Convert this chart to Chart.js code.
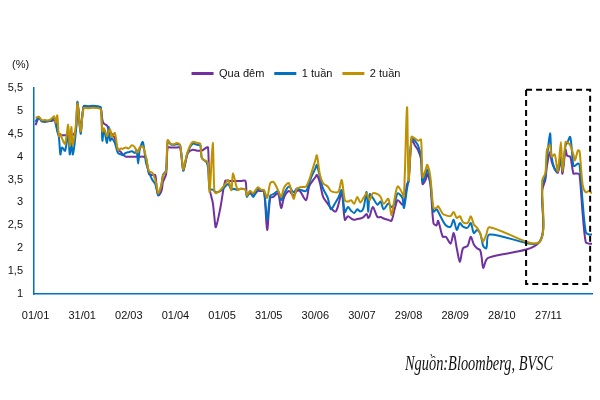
<!DOCTYPE html>
<html><head><meta charset="utf-8">
<script src="https://cdn.jsdelivr.net/npm/chart.js@4"></script>
<style>
html,body{margin:0;padding:0;background:#fff;}
#wrap{position:relative;width:600px;height:400px;overflow:hidden;}
#unit{position:absolute;left:12px;top:59px;font:11px "Liberation Sans",Arial,sans-serif;line-height:1;color:#111;}
#src{position:absolute;left:405px;top:353px;font:italic 21px "Liberation Serif","Times New Roman",serif;line-height:1;color:#111;white-space:nowrap;transform-origin:0 0;}
</style></head><body>
<div id="wrap"><canvas id="c" width="600" height="400"></canvas>
<div id="unit">(%)</div><div id="src">Nguồn:Bloomberg, BVSC</div></div>
<script>
const seriesNames = ['Qua đêm', '1 tuần', '2 tuần'];
const days = [0,2,4,6,8,10,12,13,14,15,16,17,19,21,22,23,24,26,27,29,31,34,37,40,42,43,44,46,47,48,49,51,53,55,56,58,60,62,64,65,66,67,69,71,73,75,77,78,79,81,82,84,85,87,89,91,93,95,96,98,101,104,106,107,110,111,112,114,115,116,119,122,124,126,127,130,132,135,136,138,140,143,145,147,149,151,153,156,158,160,163,166,168,170,174,176,178,180,181,183,185,188,190,193,195,197,199,201,203,205,207,209,211,213,214,215,217,220,222,224,227,229,231,233,236,237,239,240,242,244,246,248,249,251,252,254,256,258,259,262,264,267,269,271,273,275,278,280,282,284,286,287,288,290,292,324,326,328,329,331,332,334,336,338,339,341,342,344,346,347,349,350,352,354,356,358];
const quaDem = [4.69,4.84,4.78,4.76,4.78,4.78,4.80,4.72,4.60,4.47,4.47,4.47,4.47,4.47,4.47,4.47,4.47,4.58,5.20,4.58,5.10,5.09,5.10,5.09,5.05,4.80,4.72,4.68,4.60,4.55,4.50,4.40,4.15,4.10,4.05,4.00,4.00,4.00,4.00,4.00,4.00,4.00,4.00,3.98,3.62,3.60,3.60,3.30,3.15,3.25,3.45,3.62,4.20,4.20,4.20,4.20,4.20,3.70,3.80,4.08,4.15,4.13,4.13,4.13,4.20,4.20,3.30,3.00,2.70,2.46,2.90,3.47,3.47,3.47,3.47,3.47,3.47,3.47,3.15,3.20,3.15,3.25,3.25,3.25,2.40,3.10,3.12,3.20,2.88,3.12,3.25,3.15,3.25,3.25,3.05,3.35,3.46,3.55,3.60,3.42,3.12,2.97,2.88,2.80,2.97,3.23,2.62,2.70,2.65,2.62,2.64,2.65,2.68,2.75,2.66,2.70,2.90,2.68,2.68,2.65,2.62,2.60,2.85,3.05,2.95,3.00,3.40,3.45,4.38,4.25,4.15,3.95,3.40,3.50,3.62,3.40,2.55,2.50,2.60,2.25,2.25,2.10,2.33,2.00,1.70,2.00,2.05,2.25,2.08,2.00,1.96,1.80,1.57,1.75,1.80,2.13,3.27,3.50,3.80,4.10,3.90,3.73,3.65,3.95,3.63,4.15,4.02,4.00,3.63,3.63,3.63,3.60,2.75,2.13,2.10,2.10];
const tuan1 = [4.76,4.87,4.77,4.78,4.77,4.80,4.84,4.72,4.55,4.43,4.05,4.20,4.13,4.50,4.05,4.30,4.05,4.58,5.20,4.50,5.10,5.10,5.11,5.10,5.08,4.35,4.60,4.30,4.65,4.35,4.40,4.30,4.08,4.05,4.03,4.08,4.10,4.12,4.08,4.15,3.85,4.15,4.32,3.88,3.66,3.50,3.40,3.27,3.16,3.40,3.60,3.70,4.34,4.27,4.26,4.27,4.25,3.70,3.83,4.10,4.28,4.26,4.24,3.97,3.88,3.75,3.30,3.28,3.25,3.22,3.25,3.35,3.40,3.28,3.30,3.28,3.30,3.28,3.12,3.25,3.12,3.30,3.27,3.25,2.62,3.15,3.18,3.25,3.05,3.20,3.35,3.22,3.30,3.28,3.25,3.42,3.60,3.74,3.82,3.55,3.30,3.10,2.85,3.00,3.12,3.27,2.79,2.90,2.82,2.77,2.85,2.80,2.88,3.23,2.80,3.18,3.10,2.95,3.02,2.85,2.98,2.90,2.98,3.20,3.10,2.88,3.30,3.50,4.43,4.35,4.25,4.00,3.45,3.62,3.72,3.45,2.80,2.85,2.80,2.60,2.50,2.47,2.62,2.40,2.55,2.47,2.45,2.55,2.33,2.40,2.33,2.20,2.05,2.00,2.30,2.13,3.35,3.58,3.95,4.51,4.00,3.73,3.68,3.98,3.70,4.25,4.30,4.43,3.80,3.80,3.85,3.82,3.00,2.35,2.30,2.30];
const tuan2 = [4.85,4.87,4.80,4.80,4.79,4.82,4.88,4.74,4.90,4.45,4.50,4.40,4.28,4.70,4.23,4.65,4.26,4.72,5.16,4.55,5.06,5.06,5.07,5.06,5.03,4.55,4.62,4.45,4.55,4.60,4.43,4.52,4.15,4.18,4.17,4.20,4.18,4.25,4.20,4.10,4.10,4.20,4.22,4.00,3.68,3.65,3.50,3.35,3.20,3.38,3.58,3.68,4.36,4.28,4.27,4.30,4.25,3.72,3.85,4.12,4.32,4.30,4.28,3.97,3.90,3.85,3.23,4.30,3.27,3.20,3.27,3.40,3.49,3.27,3.64,3.27,3.30,3.28,3.15,3.25,3.20,3.33,3.28,3.27,3.10,3.42,3.45,3.27,3.12,3.33,3.42,3.08,3.30,3.33,3.35,3.49,3.70,3.92,4.03,3.60,3.42,3.35,3.25,3.22,3.24,3.49,3.05,3.02,3.05,2.97,3.12,3.00,3.10,3.20,3.12,3.05,3.20,3.18,3.12,2.97,3.08,2.72,3.08,3.35,3.20,3.12,5.08,3.48,4.43,4.40,4.35,4.37,3.55,3.72,3.82,3.56,2.88,2.88,2.92,2.75,2.72,2.70,2.79,2.66,2.70,2.57,2.55,2.70,2.52,2.45,2.33,2.22,2.15,2.30,2.46,2.13,3.49,3.64,4.15,4.25,4.00,4.05,3.68,4.32,3.68,4.32,4.32,4.25,4.05,3.92,4.14,4.12,3.38,3.22,3.25,3.20];
const xTickDays = [0,30,60,90,120,150,180,210,240,270,300,330];
const xTickLabels = ['01/01','31/01','02/03','01/04','01/05','31/05','30/06','30/07','29/08','28/09','28/10','27/11'];
const yTickValues = [1,1.5,2,2.5,3,3.5,4,4.5,5,5.5];
const yTickLabels = ['1','1,5','2','2,5','3','3,5','4','4,5','5','5,5'];
const highlight = {fromDay: 315.6, toDay: 356.8, low: 1.22, high: 5.46};

const colors = ['#7030A0', '#0070C0', '#BF9000'];
const seriesValues = [quaDem, tuan1, tuan2];
const FONT = '"Liberation Sans", Arial, sans-serif';

const highlightBox = {
  id: 'highlightBox',
  afterDatasetsDraw(chart) {
    const {ctx, scales: {x, y}} = chart;
    const x0 = x.getPixelForValue(highlight.fromDay), x1 = x.getPixelForValue(highlight.toDay);
    const y0 = y.getPixelForValue(highlight.high), y1 = y.getPixelForValue(highlight.low);
    ctx.save();
    ctx.setLineDash([6, 4]);
    ctx.lineWidth = 2;
    ctx.strokeStyle = '#000';
    ctx.strokeRect(x0, y0, x1 - x0, y1 - y0);
    ctx.restore();
  }
};

new Chart(document.getElementById('c'), {
  type: 'line',
  data: {
    datasets: seriesNames.map((name, i) => ({
      label: name,
      data: days.map((d, j) => ({x: d, y: seriesValues[i][j]})),
      borderColor: colors[i],
      backgroundColor: colors[i],
      borderWidth: 2,
      pointRadius: 0,
      tension: 0.3,
      fill: false,
      order: 3 - i
    }))
  },
  options: {
    responsive: false,
    animation: false,
    devicePixelRatio: 1,
    layout: {padding: {top: 58, right: 8, bottom: 76, left: 0}},
    plugins: {
      tooltip: {enabled: false},
      legend: {
        position: 'top',
        maxHeight: 30,
        labels: {
          usePointStyle: true,
          pointStyle: 'line',
          pointStyleWidth: 22,
          padding: 10,
          color: '#111',
          font: {family: FONT, size: 11},
          generateLabels: (chart) => Chart.defaults.plugins.legend.labels.generateLabels(chart).map(l => Object.assign(l, {lineWidth: 3})),
          sort: (a, b) => a.datasetIndex - b.datasetIndex
        }
      }
    },
    scales: {
      x: {
        type: 'linear',
        min: -1,
        max: 358,
        grid: {display: false, drawTicks: false},
        border: {display: true, color: '#0070C0', width: 1.5},
        afterBuildTicks: (s) => { s.ticks = xTickDays.map(v => ({value: v})); },
        afterFit: (s) => { s.height = 30; },
        ticks: {
          autoSkip: false, maxRotation: 0, padding: 15,
          color: '#111', font: {family: FONT, size: 11},
          callback: (v) => { const k = xTickDays.indexOf(v); return k >= 0 ? xTickLabels[k] : ''; }
        }
      },
      y: {
        min: 1,
        max: 5.5,
        grid: {display: false, drawTicks: false},
        border: {display: true, color: '#0070C0', width: 1.5},
        afterBuildTicks: (s) => { s.ticks = yTickValues.map(v => ({value: v})); },
        afterFit: (s) => { s.width = 34; },
        ticks: {
          padding: 11, color: '#111', font: {family: FONT, size: 11},
          callback: (v) => { const k = yTickValues.indexOf(v); return k >= 0 ? yTickLabels[k] : ''; }
        }
      }
    }
  },
  plugins: [highlightBox]
});

const src = document.getElementById('src');
const w = src.getBoundingClientRect().width;
if (w > 0) src.style.transform = 'scaleX(' + (148 / w) + ')';
</script>
</body></html>
